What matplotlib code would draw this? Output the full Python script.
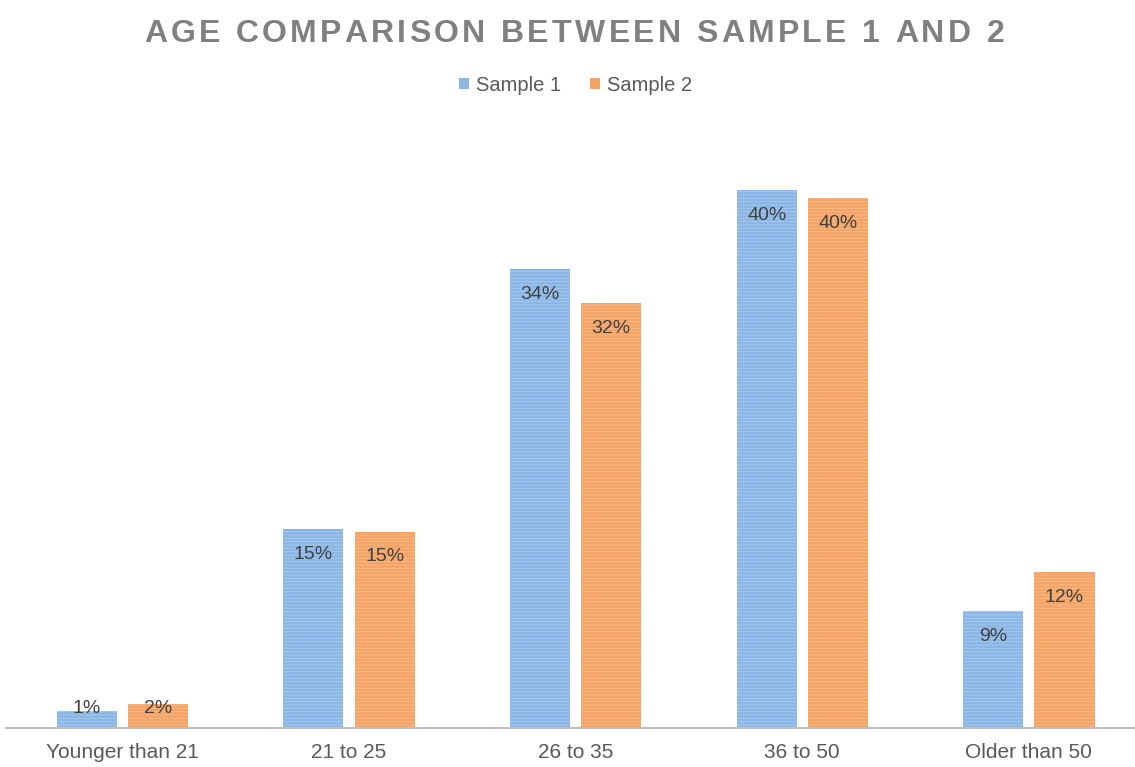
import matplotlib
matplotlib.use("Agg")
import matplotlib.pyplot as plt
import numpy as np

categories = ["Younger than 21", "21 to 25", "26 to 35", "36 to 50", "Older than 50"]
sample1 = [1.3, 14.8, 34.1, 40.0, 8.7]
sample2 = [1.8, 14.6, 31.6, 39.4, 11.6]
labels1 = ["1%", "15%", "34%", "40%", "9%"]
labels2 = ["2%", "15%", "32%", "40%", "12%"]
series_names = ["Sample 1", "Sample 2"]
title = "AGE COMPARISON BETWEEN SAMPLE 1 AND 2"

plt.rcParams['font.family'] = ['Liberation Sans', 'DejaVu Sans']
plt.rcParams['hatch.linewidth'] = 0.6

fig = plt.figure(figsize=(11.35, 7.67), dpi=100)
ax = fig.add_axes([0.005, (767 - 728) / 767, 0.995, (728 - 120) / 767])

x = np.arange(len(categories))
w = 0.265
off = 0.157
c1, c2 = "#8ab6e6", "#f4a466"
h1, h2 = "#abcaee", "#f8bb88"

b1 = ax.bar(x - off, sample1, w, color=c1, edgecolor=h1, linewidth=0, hatch='-----', label=series_names[0])
b2 = ax.bar(x + off, sample2, w, color=c2, edgecolor=h2, linewidth=0, hatch='-----', label=series_names[1])

ax.set_xlim(-0.515, 4.468)
ax.set_ylim(0, 45.2)

for rects, labs in ((b1, labels1), (b2, labels2)):
    for r, lab in zip(rects, labs):
        h = r.get_height()
        cx = r.get_x() + r.get_width() / 2
        if h < 3:
            # too short to hold the label inside: centre it near the bar top
            ax.annotate(lab, (cx, 0), xytext=(0, 14), textcoords='offset points',
                        ha='center', va='center', fontsize=14, color='#404040')
        else:
            ax.annotate(lab, (cx, h), xytext=(0, -12), textcoords='offset points',
                        ha='center', va='top', fontsize=14, color='#404040')

ax.set_xticks(x)
ax.set_xticklabels(categories, fontsize=15, color='#595959')
ax.tick_params(axis='x', length=0, pad=11)
ax.set_yticks([])
for s in ['top', 'right', 'left']:
    ax.spines[s].set_visible(False)
ax.spines['bottom'].set_color('#bfbfbf')
ax.spines['bottom'].set_linewidth(1.5)

# Title with letter spacing
renderer = fig.canvas.get_renderer()
spacing = 3.3  # px extra per char
props = dict(fontsize=23, fontweight='bold', color='#808080', va='center', ha='left')
widths = []
for ch in title:
    t = fig.text(0, 0, ch if ch != ' ' else 'i', **props)
    bb = t.get_window_extent(renderer)
    widths.append(bb.width)
    t.remove()
total = sum(widths) + spacing * (len(title) - 1)
W = fig.bbox.width
xpos = 574 - total / 2
ypos = 0.956
for ch, wd in zip(title, widths):
    if ch != ' ':
        fig.text(xpos / W, ypos, ch, **props)
    xpos += wd + spacing

leg = fig.legend(handles=[b1, b2], labels=series_names, loc='center', bbox_to_anchor=(0.507, 0.889),
                 ncol=2, frameon=False, fontsize=14.5, handlelength=0.5, handleheight=0.5,
                 handletextpad=0.35, columnspacing=1.4, labelcolor='#595959')
for p in leg.legend_handles:
    p.set_hatch(None)

fig.savefig("out.png", dpi=100)
